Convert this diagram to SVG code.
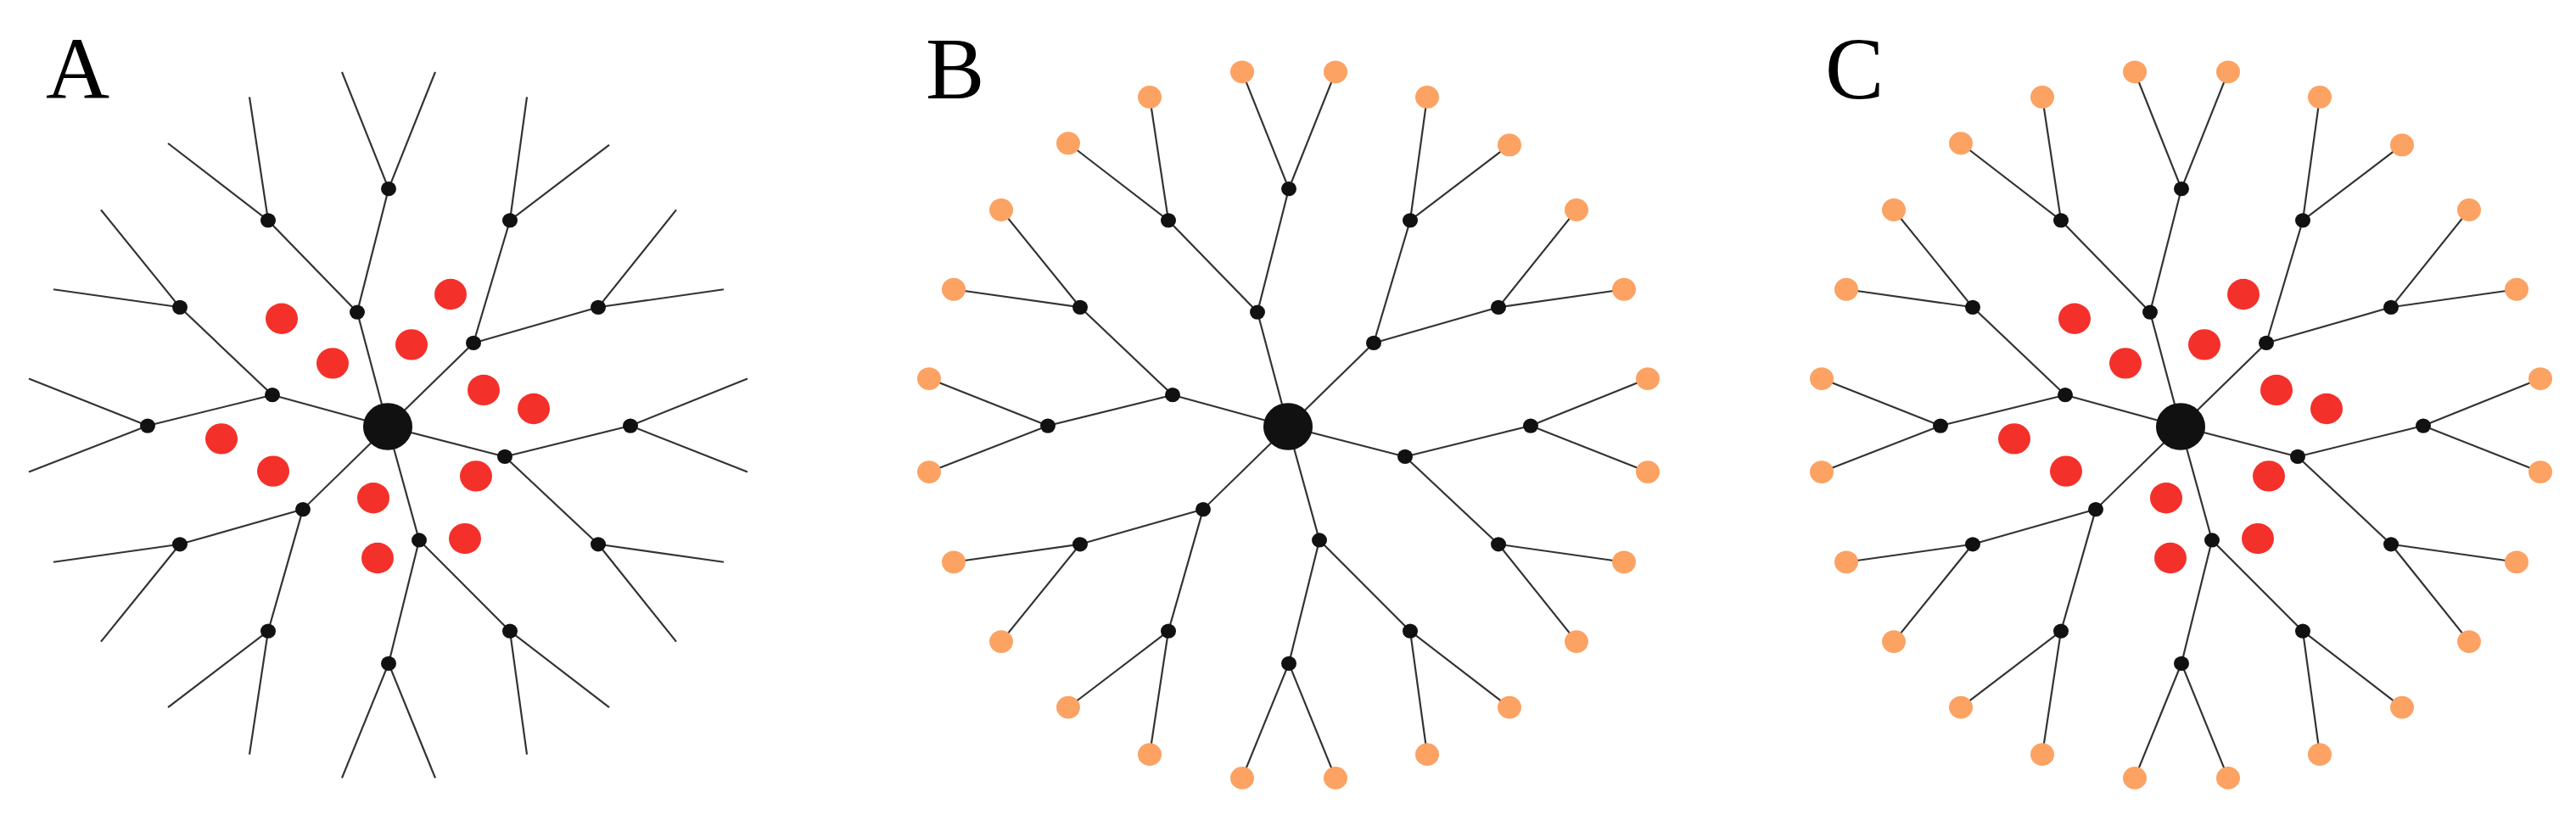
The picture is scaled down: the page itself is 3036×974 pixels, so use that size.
<svg xmlns="http://www.w3.org/2000/svg" xmlns:xlink="http://www.w3.org/1999/xlink" width="3036" height="974" viewBox="0 0 3036 974">
<style>
.e{stroke:#333;stroke-width:2.2;fill:none}
.n{fill:#111}
.l{fill:#FCA263}
.r{fill:#F4302A}
.lab{font-family:"Liberation Serif",serif;font-size:104px;fill:#000}
</style>
<defs>
<g id="edges" class="e">
<path d="M0,0L-36,-141M0,0L101,-103M0,0L138,37M0,0L37,140M0,0L-100,102M0,0L-136,-39
M-36,-141L1,-293M-36,-141L-141,-254M101,-103L144,-254M101,-103L248,-147M138,37L286,-1M138,37L248,145
M37,140L144,252M37,140L1,292M-100,102L-141,252M-100,102L-245,145M-136,-39L-283,-1M-136,-39L-245,-147
M1,-293L-54,-437M1,-293L56,-437M-141,-254L-259,-349M-141,-254L-163,-406M144,-254L164,-406M144,-254L261,-347
M248,-147L340,-267M248,-147L396,-169M286,-1L424,-59M286,-1L424,56M248,145L396,167M248,145L340,265
M144,252L261,346M144,252L164,404M1,292L-54,433M1,292L56,433M-141,252L-259,346M-141,252L-163,404
M-245,145L-394,167M-245,145L-338,265M-283,-1L-423,-59M-283,-1L-423,56M-245,-147L-394,-169M-245,-147L-338,-267"/>
</g>
<g id="nodes" class="n">
<circle r="29" cx="0" cy="0"/>
<circle r="9" cx="-36" cy="-141"/><circle r="9" cx="101" cy="-103"/><circle r="9" cx="138" cy="37"/>
<circle r="9" cx="37" cy="140"/><circle r="9" cx="-100" cy="102"/><circle r="9" cx="-136" cy="-39"/>
<circle r="9" cx="1" cy="-293"/><circle r="9" cx="-141" cy="-254"/><circle r="9" cx="144" cy="-254"/>
<circle r="9" cx="248" cy="-147"/><circle r="9" cx="286" cy="-1"/><circle r="9" cx="248" cy="145"/>
<circle r="9" cx="144" cy="252"/><circle r="9" cx="1" cy="292"/><circle r="9" cx="-141" cy="252"/>
<circle r="9" cx="-245" cy="145"/><circle r="9" cx="-283" cy="-1"/><circle r="9" cx="-245" cy="-147"/>
</g>
<g id="leaves" class="l">
<circle r="14" cx="-54" cy="-437"/><circle r="14" cx="56" cy="-437"/><circle r="14" cx="-259" cy="-349"/><circle r="14" cx="-163" cy="-406"/>
<circle r="14" cx="164" cy="-406"/><circle r="14" cx="261" cy="-347"/><circle r="14" cx="340" cy="-267"/><circle r="14" cx="396" cy="-169"/>
<circle r="14" cx="424" cy="-59"/><circle r="14" cx="424" cy="56"/><circle r="14" cx="396" cy="167"/><circle r="14" cx="340" cy="265"/>
<circle r="14" cx="261" cy="346"/><circle r="14" cx="164" cy="404"/><circle r="14" cx="-54" cy="433"/><circle r="14" cx="56" cy="433"/>
<circle r="14" cx="-259" cy="346"/><circle r="14" cx="-163" cy="404"/><circle r="14" cx="-394" cy="167"/><circle r="14" cx="-338" cy="265"/>
<circle r="14" cx="-423" cy="-59"/><circle r="14" cx="-423" cy="56"/><circle r="14" cx="-394" cy="-169"/><circle r="14" cx="-338" cy="-267"/>
</g>
<g id="red" class="r">
<circle r="19" cx="-125" cy="-133"/><circle r="19" cx="-65" cy="-78"/><circle r="19" cx="28" cy="-101"/><circle r="19" cx="74" cy="-163"/>
<circle r="19" cx="113" cy="-45"/><circle r="19" cx="172" cy="-22"/><circle r="19" cx="104" cy="61"/><circle r="19" cx="91" cy="138"/>
<circle r="19" cx="-17" cy="88"/><circle r="19" cx="-12" cy="162"/><circle r="19" cx="-135" cy="55"/><circle r="19" cx="-196" cy="15"/>
</g>
</defs>
<g id="panelA">
<text class="lab" x="54" y="116">A</text>
<g transform="translate(457,503) scale(1,0.957)"><use xlink:href="#edges"/><use xlink:href="#red"/><use xlink:href="#nodes"/></g>
</g>
<g id="panelB">
<text class="lab" x="1091" y="116">B</text>
<g transform="translate(1518,503) scale(1,0.957)"><use xlink:href="#edges"/><use xlink:href="#leaves"/><use xlink:href="#nodes"/></g>
</g>
<g id="panelC">
<text class="lab" x="2151" y="116">C</text>
<g transform="translate(2570,503) scale(1,0.957)"><use xlink:href="#edges"/><use xlink:href="#leaves"/><use xlink:href="#red"/><use xlink:href="#nodes"/></g>
</g>
</svg>
